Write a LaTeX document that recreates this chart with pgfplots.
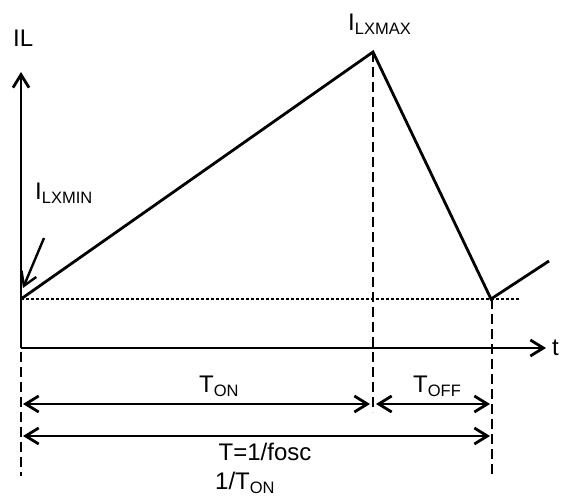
\documentclass[border=0pt]{standalone}
\usepackage{pgfplots}
\pgfplotsset{compat=1.18}
\usetikzlibrary{arrows.meta}
\usepackage{fontspec}
\setmainfont{Liberation Sans}
\newcommand{\mainsz}{\fontsize{24bp}{28bp}\selectfont}
\newcommand{\sub}[1]{\raisebox{-4bp}{\fontsize{16.5bp}{20bp}\selectfont #1}}
\begin{document}
\begin{tikzpicture}[>={Straight Barb[length=13bp,width=16bp]}]
\begin{axis}[scale only axis, width=561bp, height=496bp,
  xmin=0, xmax=561, ymin=0, ymax=496, hide axis, clip=false]
\addplot[draw=none, forget plot] coordinates {(0,0) (561,496)};
% axes
\addplot[line width=2.8bp, ->] coordinates {(21,148) (21,424)};
\addplot[line width=2.8bp, ->] coordinates {(21,148) (546,148)};
% waveform
\addplot[line width=2.8bp] coordinates {(21,197) (373,444) (491,197) (549,235)};
% dotted min level
\addplot[line width=2.4bp, dash pattern=on 2.5bp off 2.5bp] coordinates {(21,197) (520,197)};
% dashed verticals
\addplot[line width=2.8bp, dash pattern=on 10bp off 5bp] coordinates {(21,144) (21,20)};
\addplot[line width=2.8bp, dash pattern=on 10bp off 5bp] coordinates {(373,444) (373,84)};
\addplot[line width=2.8bp, dash pattern=on 10bp off 5bp] coordinates {(492,197) (492,20)};
% dimension arrows
\addplot[line width=2.8bp, <->] coordinates {(23,92) (370,92)};
\addplot[line width=2.8bp, <->] coordinates {(376,92) (490,92)};
\addplot[line width=2.8bp, <->] coordinates {(23,60) (490,60)};
% ILXMIN pointer
\addplot[line width=2.4bp, ->] coordinates {(44,258) (23,208)};
% labels
\node[anchor=base west, inner sep=0pt] at (axis cs:13,449) {\mainsz IL};
\node[anchor=base west, inner sep=0pt] at (axis cs:348,465) {\mainsz I\sub{LXMAX}};
\node[anchor=base west, inner sep=0pt] at (axis cs:35,296) {\mainsz I\sub{LXMIN}};
\node[anchor=base west, inner sep=0pt] at (axis cs:199,103) {\mainsz T\sub{ON}};
\node[anchor=base west, inner sep=0pt] at (axis cs:413,103) {\mainsz T\sub{OFF}};
\node[anchor=base, inner sep=0pt] at (axis cs:265,35) {\mainsz T=1/fosc};
\node[anchor=base west, inner sep=0pt] at (axis cs:215,7) {\mainsz 1/T\sub{ON}};
\node[anchor=base west, inner sep=0pt] at (axis cs:552,140) {\mainsz t};
\end{axis}
\end{tikzpicture}
\end{document}
